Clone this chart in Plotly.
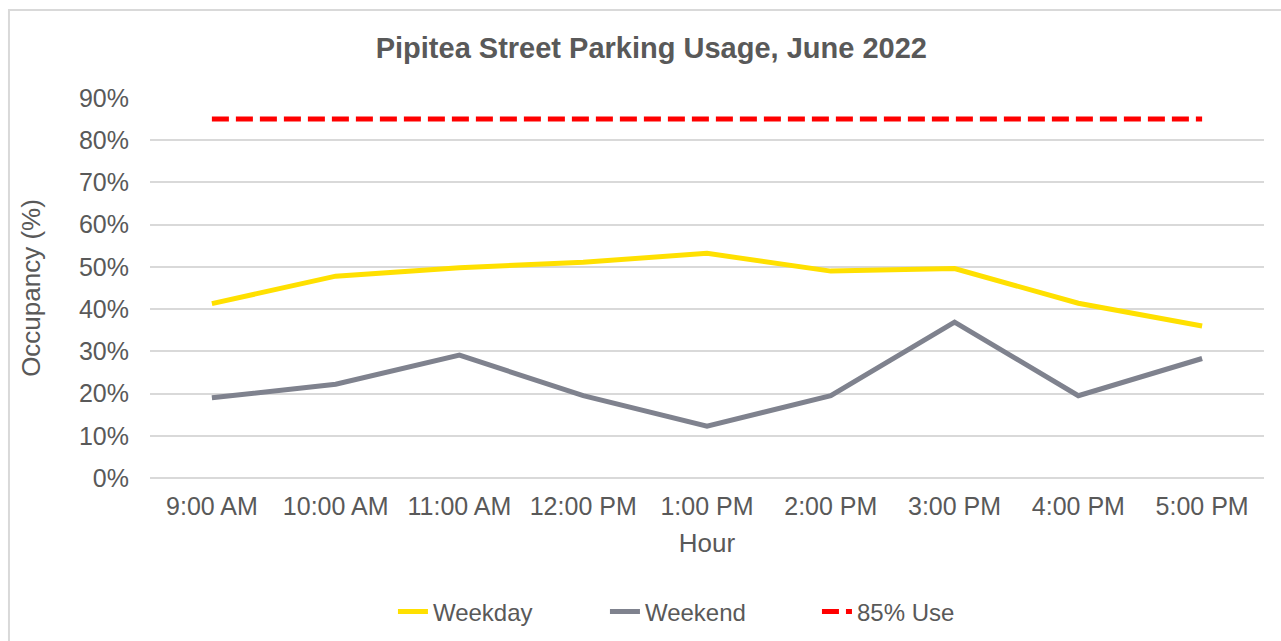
import plotly.graph_objects as go

hours = ["9:00 AM", "10:00 AM", "11:00 AM", "12:00 PM", "1:00 PM",
         "2:00 PM", "3:00 PM", "4:00 PM", "5:00 PM"]
weekday = [0.413, 0.478, 0.498, 0.511, 0.532, 0.490, 0.496, 0.414, 0.360]
weekend = [0.190, 0.222, 0.291, 0.195, 0.123, 0.195, 0.369, 0.195, 0.283]
use_85 = [0.85] * len(hours)

TEXT = "#595959"
FONT = "Liberation Sans, Arial, sans-serif"

fig = go.Figure()
fig.add_trace(go.Scatter(x=hours, y=weekday, mode="lines", name="Weekday",
                         line=dict(color="#FFE000", width=5)))
fig.add_trace(go.Scatter(x=hours, y=weekend, mode="lines", name="Weekend",
                         line=dict(color="#7F828E", width=5)))
fig.add_trace(go.Scatter(x=hours, y=use_85, mode="lines", name="85% Use",
                         line=dict(color="#FF0000", width=5, dash="17px,7px")))

# chart border, like the excel chart area outline
fig.add_shape(type="rect", xref="paper", yref="paper",
              x0=-0.1266, x1=1.03, y0=-0.47, y1=1.2316,
              line=dict(color="#D9D9D9", width=2), layer="below")

fig.update_layout(
    width=1281, height=641,
    margin=dict(l=150, r=17, t=98, b=163),
    paper_bgcolor="white", plot_bgcolor="white",
    font=dict(family=FONT, color=TEXT, size=25),
    title=dict(text="<b>Pipitea Street Parking Usage, June 2022</b>",
               x=0.45, xref="paper", xanchor="center",
               y=1 - 48 / 641, yref="container", yanchor="middle",
               font=dict(size=29, color=TEXT)),
    showlegend=True,
    legend=dict(orientation="h", xref="container", x=0.555, xanchor="center",
                yref="container", y=1 - 612 / 641, yanchor="middle",
                font=dict(size=24, color=TEXT),
                entrywidth=167, entrywidthmode="pixels"),
)
fig.update_xaxes(title_text="Hour", title_font=dict(size=26), title_standoff=14,
                 showgrid=False, showline=False, automargin=False,
                 ticks="outside", ticklen=6, tickcolor="rgba(0,0,0,0)",
                 range=[-0.5, 8.5])
fig.update_yaxes(title_text="Occupancy (%)", title_font=dict(size=26), title_standoff=30,
                 range=[0, 0.9], dtick=0.1, tickformat=".0%", automargin=False,
                 ticks="outside", ticklen=15, tickcolor="rgba(0,0,0,0)",
                 gridcolor="#D9D9D9", gridwidth=2, zeroline=True,
                 zerolinecolor="#D9D9D9", zerolinewidth=2)

# drop the default 8px body margin so the figure sits at the page corner
fig.write_html("out.html", config={"displayModeBar": False},
               post_script="document.body.style.margin='0';")
